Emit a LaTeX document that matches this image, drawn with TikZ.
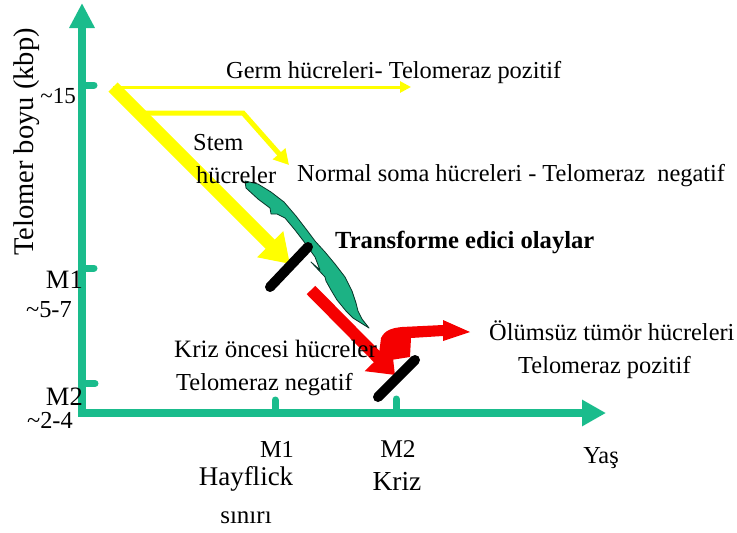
\documentclass[tikz,border=0pt]{standalone}
\usepackage{fontspec}
\setmainfont{Liberation Serif}
\usetikzlibrary{arrows.meta}

\definecolor{axisgreen}{RGB}{26,188,140}
\definecolor{blobgreen}{RGB}{28,178,132}
\definecolor{hiyellow}{RGB}{255,255,0}
\definecolor{hired}{RGB}{245,0,0}

\newcommand{\fs}[1]{\fontsize{#1}{#1}\selectfont}

\tikzset{
  lbl/.style={inner sep=0pt, font=\fs{24.4}},
  axisline/.style={draw=axisgreen, line width=8pt, line join=miter},
  tickmark/.style={draw=axisgreen, line width=7pt, line cap=round},
  blocker/.style={draw=black, line width=10pt, line cap=round},
}

\begin{document}
\begin{tikzpicture}[x=1pt, y=-1pt]
\useasboundingbox (0,0) rectangle (737,533);

% axes
\coordinate (ytop) at (82,3);
\coordinate (origin) at (82,413);
\coordinate (xend) at (606,413);
\draw[axisline, {Triangle[length=25pt,width=24pt]}-{Triangle[length=24pt,width=25pt]}]
  (ytop) -- (origin) -- (xend);

% tick marks
\coordinate (t15) at (82,85);
\coordinate (tm1) at (82,268);
\coordinate (tm2) at (82,383.5);
\draw[tickmark] (t15) -- ++(12,0);
\draw[tickmark] (tm1) -- ++(12,0);
\draw[tickmark] (tm2) -- ++(13,0);
\coordinate (xm1) at (275,413);
\coordinate (xm2) at (396,413);
\draw[tickmark] (xm1) -- ++(0,-13);
\draw[tickmark] (xm2) -- ++(0,-14);

% yellow pathways
\coordinate (start) at (113,87);
\coordinate (germend) at (411,87);
\coordinate (stemend) at (290,264);
\draw[hiyellow, line width=3pt, -{Triangle[length=11pt,width=11pt]}] (start) -- (germend);
\draw[hiyellow, line width=13pt, -{Triangle[length=28pt,width=35pt]}] (start) -- (stemend);
\coordinate (somastart) at (141,113);
\coordinate (somabend) at (243,113);
\coordinate (somaend) at (289,165);
\draw[hiyellow, line width=5pt, -{Triangle[length=15pt,width=16pt]}]
  (somastart) -- (somabend) -- (somaend);

% green leaf of transformed cells
\draw[fill=blobgreen, draw=black!70!blobgreen, line width=0.8pt, line join=round]
  (245,181) -- (258,184) -- (271,192) -- (284,202) -- (296,216) -- (306,229)
  -- (315,241) -- (325,252) -- (335,264) -- (345,277) -- (352,291) -- (356,303)
  -- (358,311) -- (362,319) -- (369,328)
  -- (353,318) -- (346,311) -- (337,300) -- (331,290) -- (326,281) -- (325,277)
  -- (311,262) -- (320,270)
  -- (315,257) -- (305,243) -- (295,230) -- (285,218) -- (277,214)
  -- (271,214) -- (270,208) -- (258,199) -- (246,188) -- cycle;

% blocking bars
\coordinate (b1a) at (270,287);
\coordinate (b1b) at (308,247);
\coordinate (b2a) at (378,397);
\coordinate (b2b) at (415,360);
\draw[blocker] (b1a) -- (b1b);

% red pathways
\coordinate (redstart) at (311,290);
\coordinate (redend) at (395,375);
\draw[hired, line width=12pt, -{Triangle[length=24pt,width=36pt]}] (redstart) -- (redend);
\coordinate (tumtip) at (470,332);
\fill[hired] (378,362) -- (381,338) .. controls (385,330) and (392,328) .. (402,327)
  -- (443,325) -- (443,320) -- (tumtip) -- (443,341) -- (443,336)
  -- (411,338) -- (410,357) -- cycle;

\draw[blocker] (b2a) -- (b2b);

% axis labels
\node[lbl, rotate=90, anchor=base, font=\fs{28.5}] (ylab) at (34,142) {Telomer boyu (kbp)};
\node[lbl, anchor=base east, font=\fs{23}] (y15) at (76,103) {\textasciitilde15};
\node[lbl, anchor=base east, font=\fs{26.5}] (ym1) at (83,288) {M1};
\node[lbl, anchor=base east] (ym1v) at (72,317) {\textasciitilde5-7};
\node[lbl, anchor=base east, font=\fs{26.5}] (ym2) at (83,405) {M2};
\node[lbl, anchor=base east] (ym2v) at (73,428) {\textasciitilde2-4};

\node[lbl, anchor=base] (xm1l) at (277,457) {M1};
\node[lbl, anchor=base, font=\fs{27}] (hay) at (246,485) {Hayflick};
\node[lbl, anchor=base, font=\fs{25}] (sin) at (246,523) {sınırı};
\node[lbl, anchor=base, font=\fs{25.5}] (xm2l) at (398,457) {M2};
\node[lbl, anchor=base, font=\fs{27.5}] (kriz) at (397,490) {Kriz};
\node[lbl, anchor=base] (yas) at (601,463) {Yaş};

% pathway labels
\node[lbl, anchor=base west] (germ) at (226,78) {Germ hücreleri- Telomeraz pozitif};
\node[lbl, anchor=base west] (stem) at (193,150) {Stem};
\node[lbl, anchor=base west] (stemh) at (196,183) {hücreler};
\node[lbl, anchor=base west] (soma) at (297,181) {Normal soma hücreleri - Telomeraz\ \ negatif};
\node[lbl, anchor=base west, font=\fs{24.6}\bfseries] (trans) at (335,248) {Transforme edici olaylar};
\node[lbl, anchor=base west] (olum) at (489,340) {Ölümsüz tümör hücreleri};
\node[lbl, anchor=base west] (olum2) at (518,373) {Telomeraz pozitif};
\node[lbl, anchor=base west, font=\fs{25}] (kriz1) at (174,357) {Kriz öncesi hücreler};
\node[lbl, anchor=base west] (kriz2) at (176,390) {Telomeraz negatif};
\end{tikzpicture}
\end{document}
